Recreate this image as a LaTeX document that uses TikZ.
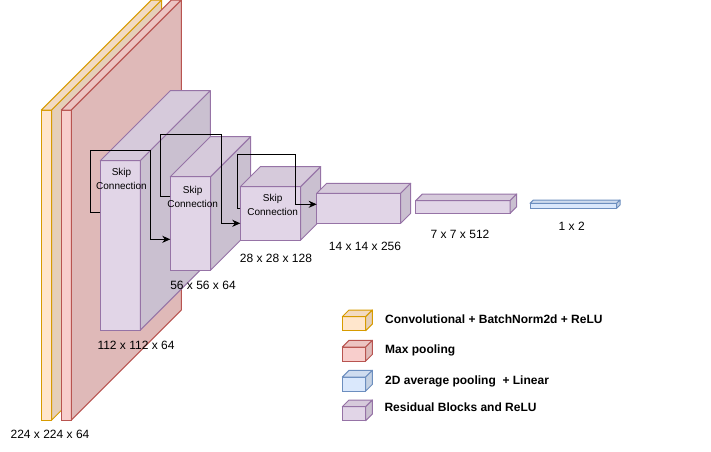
\documentclass[tikz,border=0pt]{standalone}
\usepackage{fontspec}
\setmainfont{Liberation Sans}
\usetikzlibrary{arrows.meta}
\definecolor{yfill}{HTML}{FFE6CC}\definecolor{yline}{HTML}{D79B00}
\definecolor{rfill}{HTML}{F8CECC}\definecolor{rline}{HTML}{B85450}
\definecolor{bfill}{HTML}{DAE8FC}\definecolor{bline}{HTML}{6C8EBF}
\definecolor{pfill}{HTML}{E1D5E7}\definecolor{pline}{HTML}{9673A6}
\newcommand\mycube[7]{%
  \node[draw=#7line, fill=#7fill, line width=1pt, inner sep=0pt, outer sep=0pt,
        anchor=north west, minimum width=#4, minimum height=#5] (#1) at (#2,#3) {};
  \filldraw[draw=#7line, fill=#7fill!95!black, line width=1pt, line join=round]
    (#1.north west) -- ++(#6,-#6) -- ++(#4,0) -- (#1.north east) -- cycle;
  \filldraw[draw=#7line, fill=#7fill!90!black, line width=1pt, line join=round]
    (#1.north east) -- ++(#6,-#6) -- ++(0,#5) -- (#1.south east) -- cycle;
}
\tikzset{
  dimlabel/.style={font=\fontsize{12}{14}\selectfont, inner sep=0pt},
  skiptext/.style={font=\fontsize{10}{14.3}\selectfont, align=center, inner sep=0pt},
  legtext/.style={font=\fontsize{12}{14}\selectfont\bfseries, inner sep=0pt, anchor=base west},
  skipline/.style={line width=1pt, black, -{Stealth[length=8pt,width=7pt,inset=2.5pt]}},
}
\begin{document}
\begin{tikzpicture}[x=1pt,y=-1pt]
\useasboundingbox (0,0) rectangle (711,451);
% network cubes
\mycube{conv}{41.3}{110}{10.4}{310}{110}{y}
\mycube{pool}{61.3}{110}{10}{310}{110}{r}
\mycube{res1}{100.3}{160.7}{40}{169.3}{70}{p}
\mycube{res2}{170.3}{176.7}{40.4}{93.3}{40}{p}
\mycube{res3}{240.3}{186.7}{60.4}{53.3}{20}{p}
\mycube{res4}{316.7}{193.3}{84}{30}{10}{p}
\mycube{res5}{415.7}{200.7}{94.3}{12.6}{6.7}{p}
\mycube{lin}{530}{203.3}{86.7}{5}{3.3}{b}
% skip connection texts
\node[skiptext] (sk1) at (121.5,178.8) {Skip\\Connection};
\node[skiptext] (sk2) at (192.7,196.7) {Skip\\Connection};
\node[skiptext] (sk3) at (272.7,205.0) {Skip\\Connection};
% skip connections
\coordinate (a1) at ([yshift=-51.3pt]res1.north west);
\coordinate (b1) at ([yshift=-62.6pt]res2.north west);
\draw[skipline] (a1) -| (90.3,150.3) -| (150.3,239.3) -- (b1);
\coordinate (a2) at ([yshift=-19.6pt]res2.north west);
\coordinate (b2) at ([yshift=-36.6pt]res3.north west);
\draw[skipline] (a2) -| (160,134.3) -| (221.7,223.3) -- (b2);
\coordinate (a3) at ([yshift=-21.6pt]res3.north west);
\coordinate (b3) at ([yshift=-11pt]res4.north west);
\draw[skipline] (a3) -| (237.3,154.3) -| (295.3,204.3) -- (b3);
% dimension labels
\node[dimlabel] (d1) at (50,434) {224 x 224 x 64};
\node[dimlabel] (d2) at (136,345) {112 x 112 x 64};
\node[dimlabel] (d3) at (203,285) {56 x 56 x 64};
\node[dimlabel] (d4) at (276,258.3) {28 x 28 x 128};
\node[dimlabel] (d5) at (365,246) {14 x 14 x 256};
\node[dimlabel] (d6) at (460,234) {7 x 7 x 512};
\node[dimlabel] (d7) at (571.7,226) {1 x 2};
% legend
\mycube{lg1}{342.3}{316.7}{23.4}{14}{6.7}{y}
\mycube{lg2}{342.3}{347}{23.4}{14}{6.7}{r}
\mycube{lg3}{342.3}{377}{23.4}{14}{6.7}{b}
\mycube{lg4}{342.3}{406.7}{23.4}{14}{6.7}{p}
\node[legtext] (t1) at (385,323.3) {Convolutional + BatchNorm2d + ReLU};
\node[legtext] (t2) at (385,353.3) {Max pooling};
\node[legtext] (t3) at (385,384.3) {2D average pooling\ \ + Linear};
\node[legtext] (t4) at (384.3,411.7) {Residual Blocks and ReLU};
\end{tikzpicture}
\end{document}
